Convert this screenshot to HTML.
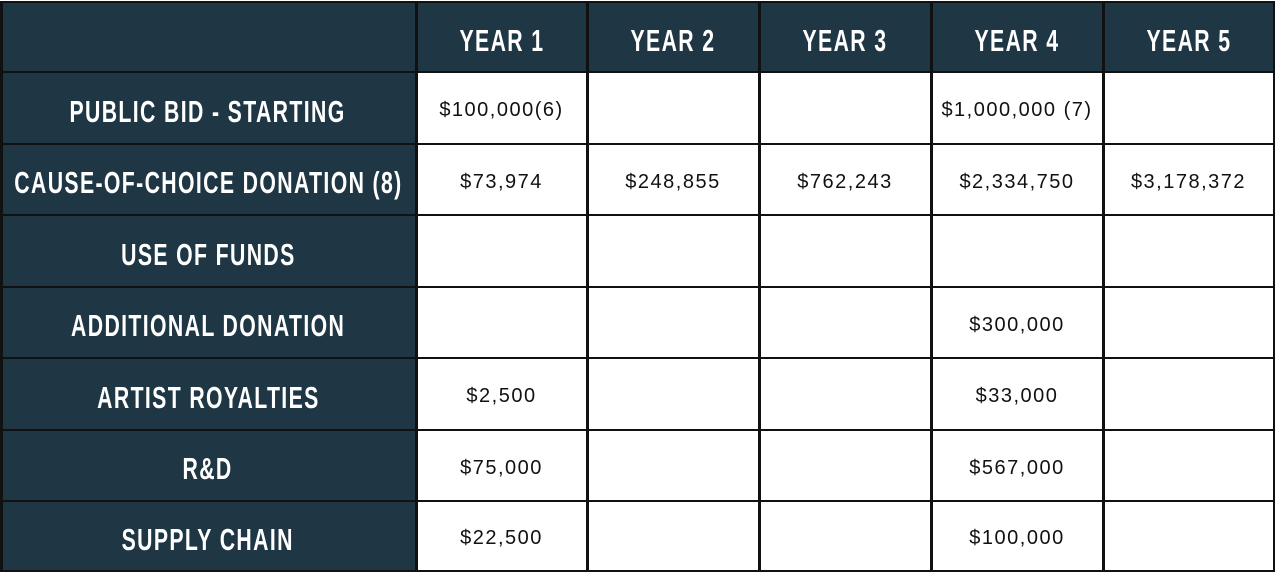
<!DOCTYPE html>
<html><head><meta charset="utf-8"><style>
body{margin:0;width:1275px;height:578px;background:#fff;position:relative;overflow:hidden}
.c{position:absolute;display:flex;align-items:center;justify-content:center;box-sizing:border-box;white-space:nowrap}
.d{background:#1f3644;color:#fff;font-family:"Liberation Sans Narrow","Liberation Sans",sans-serif;font-weight:bold;font-size:31px;letter-spacing:2px;padding-top:7px}
.d span{display:inline-block;transform:scaleX(0.685)}
.w{background:#fff;color:#111;font-family:"Liberation Sans",sans-serif;font-size:20px;letter-spacing:1.5px;padding-top:5px}
.hl{position:absolute;left:0;width:1275px;height:2px;background:#111}
.vl{position:absolute;top:2px;height:570px;width:3px;background:#111}
</style></head><body>
<div id="t"></div>
<script>
const cols=[0,416,587,759,931,1103,1274];
const rows=[2,72,144,215,287,358,430,501,571];
const years=["YEAR 1","YEAR 2","YEAR 3","YEAR 4","YEAR 5"];
const labels=["PUBLIC BID - STARTING","CAUSE-OF-CHOICE DONATION (8)","USE OF FUNDS","ADDITIONAL DONATION","ARTIST ROYALTIES","R&D","SUPPLY CHAIN"];
const vals=[["$100,000(6)","","","$1,000,000 (7)",""],["$73,974","$248,855","$762,243","$2,334,750","$3,178,372"],["","","","",""],["","","","$300,000",""],["$2,500","","","$33,000",""],["$75,000","","","$567,000",""],["$22,500","","","$100,000",""]];
const t=document.getElementById('t');
function cell(x0,x1,y0,y1,cls,txt,name){const e=document.createElement('div');e.className='c '+cls;
e.style.left=x0+'px';e.style.top=y0+'px';e.style.width=(x1-x0)+'px';e.style.height=(y1-y0)+'px';
if(cls==='d'){const s=document.createElement('span');s.textContent=txt;e.appendChild(s);}else e.textContent=txt;


t.appendChild(e);}
cell(0,416,rows[0],rows[1],'d','','corner-cell');
years.forEach((y,i)=>cell(cols[i+1],cols[i+2],rows[0],rows[1],'d',y,'header-year-'+(i+1)));
labels.forEach((l,r)=>{cell(0,416,rows[r+1],rows[r+2],'d',l,'row-label-'+(r+1));
vals[r].forEach((v,i)=>cell(cols[i+1],cols[i+2],rows[r+1],rows[r+2],'w',v,'value-cell-r'+(r+1)+'-y'+(i+1)));});
rows.forEach(y=>{const e=document.createElement('div');e.className='hl';e.style.top=(y-1)+'px';


t.appendChild(e);});
cols.forEach(x=>{const e=document.createElement('div');e.className='vl';e.style.left=(x===0?0:x-1)+'px';


t.appendChild(e);});
</script>
</body></html>
